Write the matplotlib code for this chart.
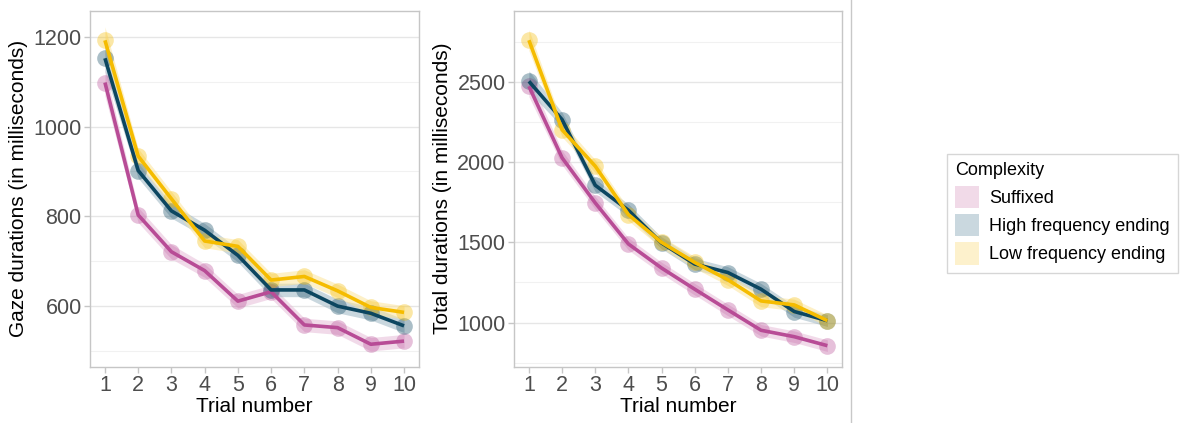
import matplotlib
matplotlib.use("Agg")
import matplotlib.pyplot as plt
from matplotlib.patches import Patch
from matplotlib.lines import Line2D
import numpy as np

plt.rcParams['font.family'] = ['Liberation Sans', 'DejaVu Sans']

trials = [1, 2, 3, 4, 5, 6, 7, 8, 9, 10]
groups = ["Suffixed", "High frequency ending", "Low frequency ending"]

# Gaze durations (ms)
gaze_suffixed = [1098, 803, 721, 679, 611, 632, 558, 552, 515, 522]
gaze_high = [1152, 902, 812, 769, 713, 636, 636, 600, 584, 556]
gaze_low = [1192, 934, 839, 745, 733, 658, 666, 634, 597, 586]
gaze_band = [30, 17, 16, 15, 15, 15, 15, 15, 15, 15]

# Total durations (ms)
total_suffixed = [2473, 2027, 1746, 1490, 1340, 1208, 1079, 952, 912, 856]
total_high = [2504, 2265, 1856, 1700, 1496, 1365, 1312, 1208, 1069, 1012]
total_low = [2760, 2202, 1975, 1673, 1500, 1375, 1267, 1135, 1110, 1012]
total_band = [65, 45, 40, 38, 36, 36, 36, 36, 36, 36]

line_colors = ["#B84C96", "#0C4660", "#F5BC00"]
ribbon_colors = ["#E7BCD8", "#9DB6C3", "#FCE49A"]
legend_fill = ["#F1DAE8", "#CAD8DF", "#FDF1CC"]

fig = plt.figure(figsize=(11.88, 4.23), dpi=100)
ax1 = fig.add_axes([90/1188, 1-366.7/423, 329/1188, 356/423])
ax2 = fig.add_axes([514/1188, 1-366.7/423, 328.3/1188, 356/423])


def panel(ax, series, band, ylabel, ylim, major, minor):
    for vals, rc in zip(series, ribbon_colors):
        v = np.array(vals, dtype=float)
        b = np.array(band, dtype=float)
        ax.fill_between(trials, v - b, v + b, color=rc, alpha=0.55, lw=0, zorder=2)
    for vals, lc in zip(series, line_colors):
        ax.plot(trials, vals, color=lc, lw=2.6, zorder=4, solid_capstyle='butt')
        ax.plot(trials, vals, 'o', color=lc, alpha=0.35, ms=12, mec='none', zorder=3)
    ax.set_xlim(0.55, 10.45)
    ax.set_ylim(*ylim)
    ax.set_xticks(trials)
    ax.set_yticks(major)
    ax.set_yticks(minor, minor=True)
    ax.grid(True, axis='y', which='major', color='#E6E6E6', lw=1.0, zorder=0)
    ax.grid(True, axis='y', which='minor', color='#F1F1F1', lw=0.8, zorder=0)
    ax.grid(False, axis='x', which='both')
    ax.set_axisbelow(True)
    for s in ax.spines.values():
        s.set_color('#C6C6C6')
        s.set_linewidth(1.0)
    ax.tick_params(axis='both', which='major', colors='#C6C6C6', labelcolor='#4D4D4D',
                   labelsize=15.5, length=4, width=1, pad=2)
    ax.tick_params(axis='y', which='minor', length=0)
    ax.set_xlabel("Trial number", fontsize=15, color='black', labelpad=1)
    ax.set_ylabel(ylabel, fontsize=15, color='black', labelpad=4)


panel(ax1, [gaze_suffixed, gaze_high, gaze_low], gaze_band,
      "Gaze durations (in milliseconds)", (465, 1258),
      [600, 800, 1000, 1200], [500, 700, 900, 1100])
panel(ax2, [total_suffixed, total_high, total_low], total_band,
      "Total durations (in milliseconds)", (725, 2944),
      [1000, 1500, 2000, 2500], [750, 1250, 1750, 2250, 2750])

# separator between plots and legend
fig.add_artist(Line2D([851/1188, 851/1188], [0, 1], color='#C8C8C8', lw=1.0))

handles = [Patch(facecolor=c, edgecolor='none') for c in legend_fill]
leg = fig.legend(handles, groups, title="Complexity",
                 loc='center left', bbox_to_anchor=(938/1188, 1-213.5/423),
                 fontsize=13, title_fontsize=13, frameon=True, fancybox=False,
                 edgecolor='#CCCCCC', handlelength=1.3, handleheight=1.5,
                 handletextpad=0.6, labelspacing=0.35, borderpad=0.45,
                 alignment='left')
leg.get_frame().set_linewidth(1.0)

fig.savefig("out.png", dpi=100)
